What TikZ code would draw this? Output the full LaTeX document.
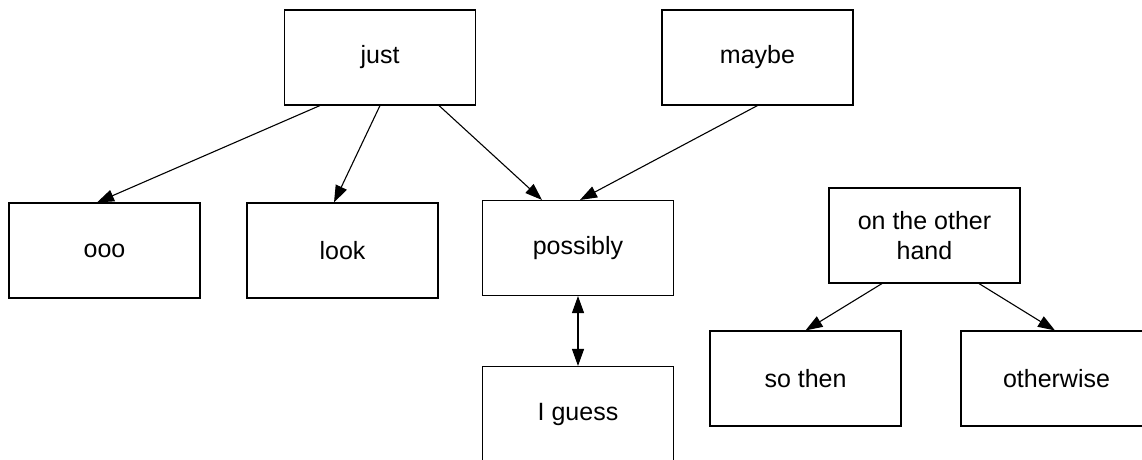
\documentclass[tikz,border=0pt]{standalone}
\usepackage{fontspec}
\setmainfont{Liberation Sans}
\usetikzlibrary{arrows.meta}
\begin{document}
\begin{tikzpicture}[x=0.5pt,y=-0.5pt,
  box/.style={draw,line width=0.55pt,minimum width=95.5pt,minimum height=47.5pt,inner sep=0pt,align=center,font=\fontsize{12.5}{15}\selectfont},
  conn/.style={line width=0.55pt,-{Triangle[length=8.5pt,width=6pt]}},
  biconn/.style={line width=0.55pt,{Triangle[length=8.5pt,width=6pt]}-{Triangle[length=8.5pt,width=6pt]}}]
\useasboundingbox (0,0) rectangle (1142,460);
\clip (0,0) rectangle (1142,460);
\fill[white] (0,0) rectangle (1142,460);
\node[box] (just) at (380,57.5) {just};
\node[box] (maybe) at (757.5,57.5) {maybe};
\node[box] (ooo) at (104.5,250.5) {ooo};
\node[box] (look) at (342.5,250.5) {look};
\node[box] (possibly) at (578,248) {possibly};
\node[box] (iguess) at (578,414) {I guess};
\node[box] (onhand) at (924.5,235.5) {on the other\\hand};
\node[box] (sothen) at (805.5,378.5) {so then};
\node[box] (otherwise) at (1056.5,378.5) {otherwise};
\draw[conn] ([xshift=-30pt]just.south) -- ([xshift=-3.75pt]ooo.north);
\draw[conn] (just.south) -- ([xshift=-4.25pt]look.north);
\draw[conn] ([xshift=29.5pt]just.south) -- ([xshift=-18pt]possibly.north);
\draw[conn] (maybe.south) -- ([xshift=1pt]possibly.north);
\draw[biconn] (possibly.south) -- (iguess.north);
\draw[conn] ([xshift=-21.25pt]onhand.south) -- (sothen.north);
\draw[conn] ([xshift=27.25pt]onhand.south) -- ([xshift=-0.75pt]otherwise.north);
\end{tikzpicture}
\end{document}
